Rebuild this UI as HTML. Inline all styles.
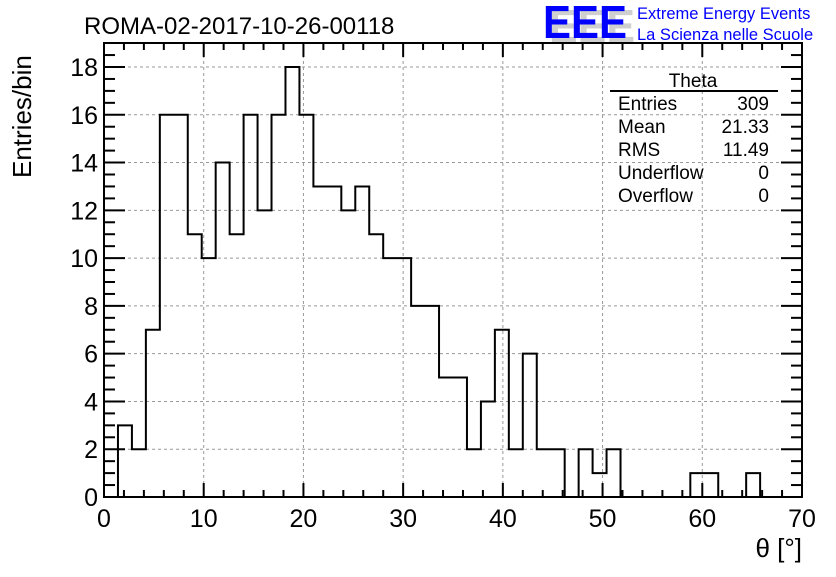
<!DOCTYPE html>
<html><head><meta charset="utf-8"><style>
body{margin:0;background:#fff;}
svg text{font-family:"Liberation Sans",sans-serif;}
</style></head><body>
<svg id="c" width="836" height="572" viewBox="0 0 836 572" xmlns="http://www.w3.org/2000/svg">
<rect width="836" height="572" fill="#fff"/>
<g id="grid"></g>
<g id="ticks"></g>
<path id="hist" fill="none" stroke="#000" stroke-width="2"/>
<rect x="104" y="43" width="698" height="454" fill="none" stroke="#000" stroke-width="2"/>
<text x="84" y="34" font-size="24">ROMA-02-2017-10-26-00118</text>
<g>
<text x="549" y="42" font-size="46" fill="#bbb" font-weight="bold" opacity="0.7" textLength="86" lengthAdjust="spacingAndGlyphs">EEE</text>
<text x="543" y="38" font-size="46" fill="#00f" font-weight="bold" textLength="84" lengthAdjust="spacingAndGlyphs">EEE</text>
<text x="637" y="19" font-size="16.5" fill="#00f">Extreme Energy Events</text>
<text x="637" y="40" font-size="16.5" fill="#00f">La Scienza nelle Scuole</text>
</g>
<g font-size="19">
<text x="693" y="87" text-anchor="middle">Theta</text>
<line x1="610" y1="91" x2="778" y2="91" stroke="#000" stroke-width="2"/>
<text x="618" y="110">Entries</text><text x="769" y="110" text-anchor="end">309</text>
<text x="618" y="133">Mean</text><text x="769" y="133" text-anchor="end">21.33</text>
<text x="618" y="156">RMS</text><text x="769" y="156" text-anchor="end">11.49</text>
<text x="618" y="179">Underflow</text><text x="769" y="179" text-anchor="end">0</text>
<text x="618" y="202">Overflow</text><text x="769" y="202" text-anchor="end">0</text>
</g>
<text transform="translate(31,178) rotate(-90)" font-size="26">Entries/bin</text>
<text x="802" y="557" text-anchor="end" font-size="26">θ [°]</text>
</svg>
<script>
const counts=[0,3,2,7,16,16,11,10,14,11,16,12,16,18,16,13,13,12,13,11,10,10,8,8,5,5,2,4,7,2,6,2,2,0,2,1,2,0,0,0,0,0,1,1,0,0,1,0,0,0];
const xTicks=[0,10,20,30,40,50,60,70];
const yTicks=[0,2,4,6,8,10,12,14,16,18];
const binWidth=1.4;
const X=v=>104+v*(698/70), Y=v=>497-v*(430/18);
const ns="http://www.w3.org/2000/svg";
const grid=document.getElementById('grid'), tk=document.getElementById('ticks'), svg=document.getElementById('c');
function ln(p,x1,y1,x2,y2,st,w,dash){const l=document.createElementNS(ns,'line');l.setAttribute('x1',x1);l.setAttribute('y1',y1);l.setAttribute('x2',x2);l.setAttribute('y2',y2);l.setAttribute('stroke',st);l.setAttribute('stroke-width',w);if(dash)l.setAttribute('stroke-dasharray',dash);p.appendChild(l);return l;}
function tx(x,y,s,a){const t=document.createElementNS(ns,'text');t.setAttribute('x',x);t.setAttribute('y',y);t.setAttribute('font-size','25');t.setAttribute('text-anchor',a);t.textContent=s;svg.appendChild(t);return t;}
xTicks.forEach(v=>{const x=X(v);
 if(v>0&&v<70){const g=ln(grid,x,43,x,497,'#999',1,'3,3');}
 const t=tx(x,527,String(v),'middle');});
for(let v=0;v<=70;v+=2){const x=X(v),L=(v%10===0)?14:7;ln(tk,x,497,x,497-L,'#000',2);ln(tk,x,43,x,43+L,'#000',2);}
yTicks.forEach(v=>{const y=Y(v);
 if(v>0){const g=ln(grid,104,y,802,y,'#999',1,'3,3');}
 const t=tx(98,y+9,String(v),'end');});
for(let v=0;v<=18.6;v+=0.5){const y=Y(v);if(y<43)break;const L=(v%2===0)?21:11;ln(tk,104,y,104+L,y,'#000',2);ln(tk,802,y,802-L,y,'#000',2);}
let d='M'+X(0)+','+Y(0);
counts.forEach((c,i)=>{const x0=X(i*binWidth),x1=X((i+1)*binWidth);d+=' L'+x0+','+Y(c)+' L'+x1+','+Y(c);});
d+=' L'+X(counts.length*binWidth)+','+Y(0);
document.getElementById('hist').setAttribute('d',d);
</script>
</body></html>
